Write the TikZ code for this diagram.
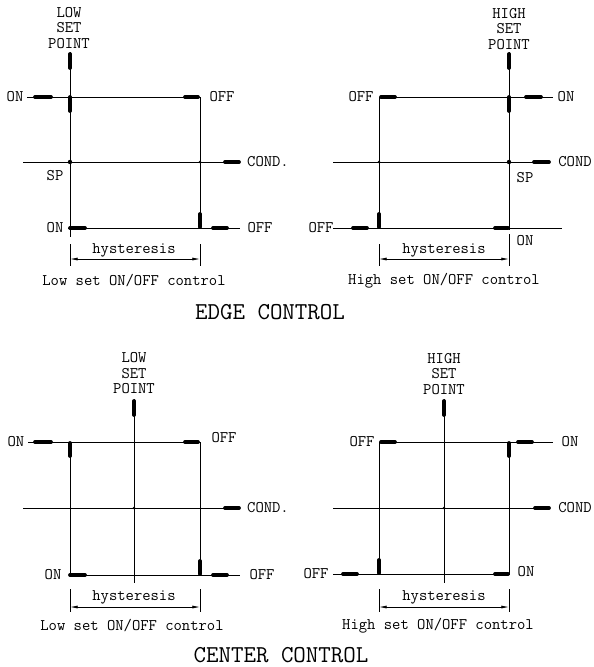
\documentclass[tikz,border=0pt]{standalone}
\usepackage{fontspec}
\usepackage{tikz}
\usetikzlibrary{arrows.meta}

\begin{document}
\begin{tikzpicture}[x=0.03cm, y=-0.03cm,
    wire/.style={line width=0.6pt},
    pulse/.style={line width=3.2pt, line cap=round},
    lbl/.style={font=\ttfamily\fontsize{13.8}{13.2}\selectfont, inner sep=0pt},
    ttl/.style={font=\ttfamily\fontsize{20.7}{22}\selectfont, inner sep=0pt},
    dimline/.style={line width=0.6pt, {Latex[length=2.3mm,width=0.9mm]}-{Latex[length=2.3mm,width=0.9mm]}}]
    \useasboundingbox (0,0) rectangle (594,667);

    % Edge control, low set point
    \draw[wire] (70,52) -- (70,237);
    \draw[wire] (27,97) -- (200,97) -- (200,228);
    \draw[wire] (23,162) -- (240,162);
    \draw[wire] (68,228) -- (240,228);
    \draw[pulse] (35,97) -- (51,97);
    \draw[pulse] (185,97) -- (198,97);
    \draw[pulse] (70,54) -- (70,68);
    \draw[pulse] (70,97) -- (70,111);
    \draw[pulse] (225,162) -- (239,162);
    \draw[pulse] (70,228) -- (85,228);
    \draw[pulse] (213,228) -- (227,228);
    \draw[pulse] (200,214) -- (200,227);
    \fill (70,162) circle (2.2);
    \fill (200,162) circle (1.3);
    \node[lbl, align=center] (esp1) at (69,28) {LOW\\SET\\POINT};
    \node[lbl] (eon1) at (15,97) {ON};
    \node[lbl] (eoff1) at (222,97) {OFF};
    \node[lbl] (econd1) at (268,162) {COND.};
    \node[lbl] (esp1t) at (55,176) {SP};
    \node[lbl] (eon1b) at (55,228) {ON};
    \node[lbl] (eoff1b) at (260,228) {OFF};
    \draw[wire] (70,244) -- (70,266);
    \draw[wire] (200,244) -- (200,266);
    \draw[dimline] (70,259) -- (200,259);
    \node[lbl] (ehys1) at (134,250) {hysteresis};
    \node[lbl] (ecap1) at (134,281) {Low set ON/OFF control};

    % Edge control, high set point
    \draw[wire] (509,52) -- (509,230);
    \draw[wire] (379,97) -- (553,97);
    \draw[wire] (379,97) -- (379,228);
    \draw[wire] (333,162) -- (550,162);
    \draw[wire] (333,228) -- (562,228);
    \draw[pulse] (381,97) -- (395,97);
    \draw[pulse] (526,97) -- (541,97);
    \draw[pulse] (509,54) -- (509,68);
    \draw[pulse] (509,97) -- (509,111);
    \draw[pulse] (534,162) -- (549,162);
    \draw[pulse] (353,228) -- (367,228);
    \draw[pulse] (379,214) -- (379,227);
    \draw[pulse] (495,228) -- (508,228);
    \fill (509,162) circle (2.2);
    \fill (379,162) circle (1.3);
    \node[lbl, align=center] (esp2) at (509,29) {HIGH\\SET\\POINT};
    \node[lbl] (eoff2) at (361,97) {OFF};
    \node[lbl] (eon2) at (566,97) {ON};
    \node[lbl] (econd2) at (575,162) {COND};
    \node[lbl] (esp2t) at (525,178) {SP};
    \node[lbl] (eoff2b) at (321,228) {OFF};
    \node[lbl] (eon2b) at (525,241) {ON};
    \draw[wire] (379,244) -- (379,266);
    \draw[wire] (509,234) -- (509,266);
    \draw[dimline] (379,259) -- (509,259);
    \node[lbl] (ehys2) at (444,250) {hysteresis};
    \node[lbl] (ecap2) at (444,281) {High set ON/OFF control};

    \node[ttl] (edge) at (270,312) {EDGE CONTROL};

    % Center control, low set point
    \draw[wire] (28,442) -- (200,442) -- (200,575);
    \draw[wire] (70,442) -- (70,575);
    \draw[wire] (134,399) -- (134,583);
    \draw[wire] (23,508) -- (240,508);
    \draw[wire] (69,575) -- (240,575);
    \draw[pulse] (35,442) -- (51,442);
    \draw[pulse] (185,442) -- (198,442);
    \draw[pulse] (70,443) -- (70,456);
    \draw[pulse] (134,401) -- (134,415);
    \draw[pulse] (225,508) -- (239,508);
    \draw[pulse] (70,575) -- (85,575);
    \draw[pulse] (213,575) -- (227,575);
    \draw[pulse] (200,561) -- (200,574);
    \fill (134,508) circle (1.3);
    \node[lbl, align=center] (csp1) at (134,373.5) {LOW\\SET\\POINT};
    \node[lbl] (con1) at (16,442) {ON};
    \node[lbl] (coff1) at (224,438) {OFF};
    \node[lbl] (ccond1) at (268,508) {COND.};
    \node[lbl] (con1b) at (53,575) {ON};
    \node[lbl] (coff1b) at (262,575) {OFF};
    \draw[wire] (70,589) -- (70,612);
    \draw[wire] (200,589) -- (200,612);
    \draw[dimline] (70,607) -- (200,607);
    \node[lbl] (chys1) at (134,597) {hysteresis};
    \node[lbl] (ccap1) at (132,626) {Low set ON/OFF control};

    % Center control, high set point
    \draw[wire] (379,442) -- (553,442);
    \draw[wire] (379,442) -- (379,575);
    \draw[wire] (509,442) -- (509,575);
    \draw[wire] (444,399) -- (444,583);
    \draw[wire] (333,508) -- (550,508);
    \draw[wire] (333,574) -- (509,574);
    \draw[pulse] (381,442) -- (395,442);
    \draw[pulse] (518,442) -- (532,442);
    \draw[pulse] (509,443) -- (509,456);
    \draw[pulse] (444,401) -- (444,415);
    \draw[pulse] (535,508) -- (549,508);
    \draw[pulse] (343,574) -- (357,574);
    \draw[pulse] (379,560) -- (379,573);
    \draw[pulse] (495,574) -- (508,574);
    \fill (444,508) circle (1.3);
    \node[lbl, align=center] (csp2) at (444,374) {HIGH\\SET\\POINT};
    \node[lbl] (coff2) at (362,442) {OFF};
    \node[lbl] (con2) at (570,442) {ON};
    \node[lbl] (ccond2) at (575,508) {COND};
    \node[lbl] (coff2b) at (316,574) {OFF};
    \node[lbl] (con2b) at (526,572) {ON};
    \draw[wire] (379,589) -- (379,612);
    \draw[wire] (509,589) -- (509,612);
    \draw[dimline] (379,607) -- (509,607);
    \node[lbl] (chys2) at (444,597) {hysteresis};
    \node[lbl] (ccap2) at (438,626) {High set ON/OFF control};

    \node[ttl] (center) at (281,655) {CENTER CONTROL};
\end{tikzpicture}
\end{document}
